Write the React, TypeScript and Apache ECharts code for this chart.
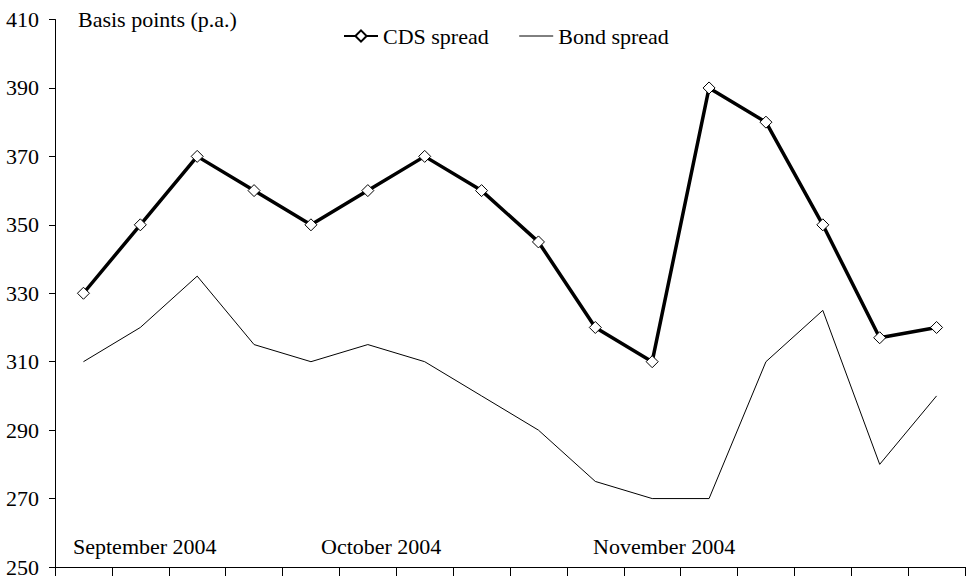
import { useEffect, useRef } from "react";
import * as echarts from "echarts";

// ---- data ----
const weeks = [
  "W1", "W2", "W3", "W4", "W5", "W6", "W7", "W8",
  "W9", "W10", "W11", "W12", "W13", "W14", "W15", "W16",
];
const cdsSpread = [330, 350, 370, 360, 350, 360, 370, 360, 345, 320, 310, 390, 380, 350, 317, 320];
const bondSpread = [310, 320, 335, 315, 310, 315, 310, 300, 290, 275, 270, 270, 310, 325, 280, 300];
const monthLabels = ["September 2004", "October 2004", "November 2004"];
const yMin = 250;
const yMax = 410;
const yStep = 20;
const yTitle = "Basis points (p.a.)";
const seriesNames = ["CDS spread", "Bond spread"];

// ---- layout (not data) ----
const monthLabelX = [73, 321, 593];
const FONT = "Liberation Serif";
const FS = 22;

export default function App() {
  const ref = useRef<HTMLDivElement>(null);

  useEffect(() => {
    if (!ref.current) return;
    const chart = echarts.init(ref.current, undefined, { renderer: "svg" });
    chart.setOption({
      animation: false,
      backgroundColor: "#ffffff",
      textStyle: { fontFamily: FONT, color: "#000" },
      grid: { left: 55, right: 3, top: 19.5, bottom: 10, containLabel: false },
      legend: {
        left: 338,
        top: 20,
        itemWidth: 34,
        itemHeight: 14,
        itemGap: 30,
        textStyle: { fontFamily: FONT, fontSize: FS, color: "#000" },
        data: [
          { name: seriesNames[0] },
          { name: seriesNames[1], itemStyle: { opacity: 0 }, lineStyle: { width: 1, color: "#000" } },
        ],
      },
      xAxis: {
        type: "category",
        data: weeks,
        boundaryGap: true,
        axisLine: { show: true, lineStyle: { color: "#000", width: 1 } },
        axisTick: { show: true, length: 9, lineStyle: { color: "#000", width: 1 } },
        axisLabel: { show: false },
        splitLine: { show: false },
      },
      yAxis: {
        type: "value",
        min: yMin,
        max: yMax,
        interval: yStep,
        name: yTitle,
        nameLocation: "end",
        nameGap: 0,
        nameTextStyle: {
          fontFamily: FONT,
          fontSize: FS,
          color: "#000",
          align: "left",
          verticalAlign: "middle",
          padding: [0, 0, 0, 23],
        },
        axisLine: { show: true, lineStyle: { color: "#000", width: 1 } },
        axisTick: { show: true, length: 6, lineStyle: { color: "#000", width: 1 } },
        axisLabel: { fontFamily: FONT, fontSize: FS, color: "#000", margin: 16 },
        splitLine: { show: false },
      },
      series: [
        {
          name: seriesNames[0],
          type: "line",
          data: cdsSpread,
          symbol: "diamond",
          symbolSize: 12,
          showAllSymbol: true,
          lineStyle: { color: "#000", width: 3.5 },
          itemStyle: { color: "#fff", borderColor: "#000", borderWidth: 1 },
          z: 3,
        },
        {
          name: seriesNames[1],
          type: "line",
          data: bondSpread,
          symbol: "none",
          lineStyle: { color: "#000", width: 1 },
          itemStyle: { color: "#000" },
          z: 2,
        },
      ],
      graphic: monthLabels.map((t, i) => ({
        type: "text",
        x: monthLabelX[i],
        y: 546,
        style: {
          text: t,
          fontFamily: FONT,
          fontSize: FS,
          fill: "#000",
          align: "left",
          verticalAlign: "middle",
        },
      })),
    });
    return () => chart.dispose();
  }, []);

  return (
    <div
      ref={ref}
      style={{ position: "fixed", left: 0, top: 0, width: 968, height: 578, background: "#fff" }}
    />
  );
}
